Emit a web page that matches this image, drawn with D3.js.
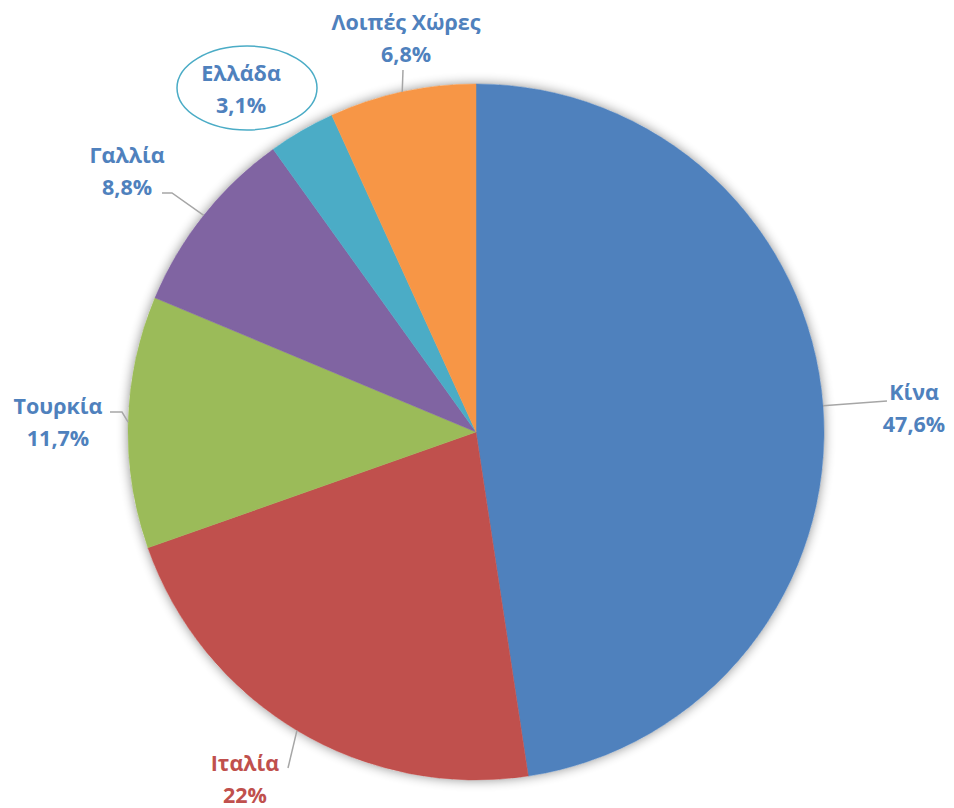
<!DOCTYPE html>
<html>
<head>
<meta charset="utf-8">
<script src="https://cdn.jsdelivr.net/npm/d3@7"></script>
<style>
body { margin:0; background:#fff; }
text { font-family:"Open Sans", "Noto Sans", sans-serif; font-weight:bold; }
</style>
</head>
<body>
<svg width="954" height="808"></svg>
<script>
// data
var countries = ["Κίνα","Ιταλία","Τουρκία","Γαλλία","Ελλάδα","Λοιπές Χώρες"];
var shares = [47.6, 22, 11.7, 8.8, 3.1, 6.8];
var valueLabels = ["47,6%","22%","11,7%","8,8%","3,1%","6,8%"];
var colors = ["#4F81BD","#C0504D","#9BBB59","#8064A2","#4BACC6","#F79646"];

// label layout: text centre, elbow point of the leader line (null = no line)
var labelLayout = [
    {x:914, y:392, elbow:[887,401], end:null},
    {x:245, y:763, elbow:[288,768], end:null},
    {x:58,  y:406, elbow:[122,412], end:[110,412]},
    {x:127, y:155, elbow:[172,193], end:[162,193]},
    {x:241, y:73,  elbow:null, end:null},
    {x:406, y:22,  elbow:[403,70], end:null}
];

var svg = d3.select("svg");
var center = {x:476, y:432};
var radius = 348;

var defs = svg.append("defs");
var filter = defs.append("filter")
    .attr("id","shadow")
    .attr("x","-20%").attr("y","-20%")
    .attr("width","140%").attr("height","140%");
filter.append("feGaussianBlur")
    .attr("in","SourceAlpha")
    .attr("stdDeviation",6)
    .attr("result","blur");
filter.append("feComponentTransfer")
    .append("feFuncA").attr("type","linear").attr("slope",0.45);
var merge = filter.append("feMerge");
merge.append("feMergeNode");
merge.append("feMergeNode").attr("in","SourceGraphic");

var pie = d3.pie().sort(null).value(function(d){ return d; });
var arcs = pie(shares);
var arc = d3.arc().innerRadius(0).outerRadius(radius);

var g = svg.append("g")
    .attr("transform","translate("+center.x+","+center.y+")");

g.append("circle")
    .attr("r",radius)
    .attr("fill","#fff")
    .attr("filter","url(#shadow)");

g.selectAll("path.slice")
    .data(arcs)
    .enter()
    .append("path")
    .attr("class","slice")
    .attr("d",arc)
    .attr("fill",function(d,i){ return colors[i]; })
    .attr("stroke",function(d,i){ return colors[i]; })
    .attr("stroke-width",0.5);

// leader lines
var edgePoint = function(d)
{
    var a = (d.startAngle + d.endAngle) / 2;
    return [center.x + radius*Math.sin(a), center.y - radius*Math.cos(a)];
}
arcs.forEach(function(d,i)
{
    var lay = labelLayout[i];
    if (!lay.elbow) return;
    var pts = [edgePoint(d), lay.elbow];
    if (lay.end) pts.push(lay.end);
    svg.append("path")
        .attr("d",d3.line()(pts))
        .attr("fill","none")
        .attr("stroke","#A6A6A6")
        .attr("stroke-width",1.5);
});

// ellipse around Ελλάδα
svg.append("ellipse")
    .attr("cx",247).attr("cy",88)
    .attr("rx",70).attr("ry",42)
    .attr("fill","#fff")
    .attr("stroke","#4BACC6")
    .attr("stroke-width",1.5);

var labels = svg.append("g").selectAll("text")
    .data(arcs)
    .enter()
    .append("text")
    .attr("text-anchor","middle")
    .attr("fill",function(d,i){ return i==1 ? "#C0504D" : "#4F81BD"; })
    .attr("font-size",21.5);
labels.append("tspan")
    .attr("x",function(d,i){ return labelLayout[i].x; })
    .attr("y",function(d,i){ return labelLayout[i].y; })
    .attr("dy","0.35em")
    .text(function(d,i){ return countries[i]; });
labels.append("tspan")
    .attr("x",function(d,i){ return labelLayout[i].x; })
    .attr("y",function(d,i){ return labelLayout[i].y + 32; })
    .attr("dy","0.35em")
    .text(function(d,i){ return valueLabels[i]; });
</script>
</body>
</html>
